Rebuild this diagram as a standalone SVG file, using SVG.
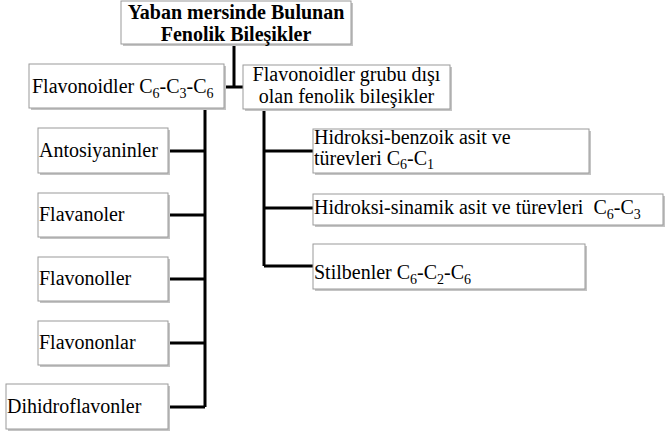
<svg xmlns="http://www.w3.org/2000/svg" width="666" height="435" viewBox="0 0 666 435">
<style>
.box{fill:#fff;stroke:#9a9a9a;stroke-width:1}
.sh{fill:#c4c4c4}
text{font-family:'Times New Roman','Liberation Serif',Tinos,'DejaVu Serif',serif;font-size:20px;fill:#000}
.b{font-weight:bold}
.s{font-size:14px}
.c{fill:none;stroke:#000;stroke-width:3}
</style>
<rect width="666" height="435" fill="#fff"/>
<g id="connectors">
<path class="c" d="M234,44V87M224,87H243"/>
<path class="c" d="M205,108V407M168,151H205M168,215H205M168,279H205M168,343H205M168,407H205"/>
<path class="c" d="M264,109V266M264,151H313M264,208H313M264,266H313"/>
</g>
<g id="root">
<rect class="sh" x="123" y="3" width="230" height="43"/>
<rect class="box" x="121" y="1" width="230" height="43"/>
<text class="b" x="236" y="18.5" text-anchor="middle">Yaban mersinde Bulunan</text>
<text class="b" x="236" y="40.5" text-anchor="middle">Fenolik Bileşikler</text>
</g>
<g id="flavonoidler">
<rect class="sh" x="31" y="66" width="195" height="44"/>
<rect class="box" x="29" y="64" width="195" height="44"/>
<text x="32" y="93">Flavonoidler C<tspan class="s" dy="5">6</tspan><tspan dy="-5">-C</tspan><tspan class="s" dy="5">3</tspan><tspan dy="-5">-C</tspan><tspan class="s" dy="5">6</tspan></text>
</g>
<g id="diger">
<rect class="sh" x="245" y="67" width="207" height="44"/>
<rect class="box" x="243" y="65" width="207" height="44"/>
<text x="346.5" y="81" text-anchor="middle">Flavonoidler grubu dışı</text>
<text x="346.5" y="103" text-anchor="middle">olan fenolik bileşikler</text>
</g>
<g id="antosiyaninler">
<rect class="sh" x="40" y="130" width="130" height="45"/>
<rect class="box" x="38" y="128" width="130" height="45"/>
<text x="39" y="157">Antosiyaninler</text>
</g>
<g id="flavanoler">
<rect class="sh" x="40" y="195" width="130" height="44"/>
<rect class="box" x="38" y="193" width="130" height="44"/>
<text x="39" y="221">Flavanoler</text>
</g>
<g id="flavonoller">
<rect class="sh" x="40" y="259" width="130" height="44"/>
<rect class="box" x="38" y="257" width="130" height="44"/>
<text x="39" y="285">Flavonoller</text>
</g>
<g id="flavononlar">
<rect class="sh" x="40" y="323" width="130" height="44"/>
<rect class="box" x="38" y="321" width="130" height="44"/>
<text x="39" y="349">Flavononlar</text>
</g>
<g id="dihidroflavonler">
<rect class="sh" x="8" y="386" width="162" height="45"/>
<rect class="box" x="6" y="384" width="162" height="45"/>
<text x="7" y="413">Dihidroflavonler</text>
</g>
<g id="benzoik">
<rect class="sh" x="315" y="131" width="276" height="44"/>
<rect class="box" x="313" y="129" width="276" height="44"/>
<text x="314" y="144">Hidroksi-benzoik asit ve</text>
<text x="314" y="165">türevleri C<tspan class="s" dy="4">6</tspan><tspan dy="-4">-C</tspan><tspan class="s" dy="4">1</tspan></text>
</g>
<g id="sinamik">
<rect class="sh" x="315" y="196" width="350" height="31"/>
<rect class="box" x="313" y="194" width="350" height="31"/>
<text x="314" y="214" xml:space="preserve">Hidroksi-sinamik asit ve türevleri  C<tspan class="s" dy="5">6</tspan><tspan dy="-5">-C</tspan><tspan class="s" dy="5">3</tspan></text>
</g>
<g id="stilbenler">
<rect class="sh" x="315" y="246" width="272" height="45"/>
<rect class="box" x="313" y="244" width="272" height="45"/>
<text x="314" y="279">Stilbenler C<tspan class="s" dy="5">6</tspan><tspan dy="-5">-C</tspan><tspan class="s" dy="5">2</tspan><tspan dy="-5">-C</tspan><tspan class="s" dy="5">6</tspan></text>
</g>
</svg>
